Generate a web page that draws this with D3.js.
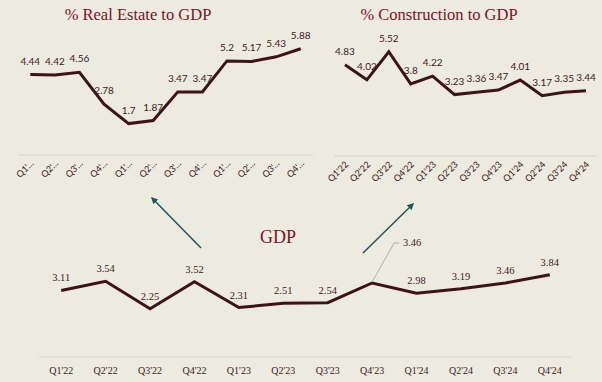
<!DOCTYPE html>
<html><head><meta charset="utf-8">
<script src="https://cdn.jsdelivr.net/npm/d3@7"></script>
<style>
html,body{margin:0;padding:0;background:#EDEAE0;}
svg{display:block;}
</style></head>
<body><svg id="c" width="602" height="382"></svg>
<script>
const quarters = ["Q1'22","Q2'22","Q3'22","Q4'22","Q1'23","Q2'23","Q3'23","Q4'23","Q1'24","Q2'24","Q3'24","Q4'24"];
const realEstateTicks = ["Q1'…","Q2'…","Q3'…","Q4'…","Q1'…","Q2'…","Q3'…","Q4'…","Q1'…","Q2'…","Q3'…","Q4'…"];
const realEstate = [4.44,4.42,4.56,2.78,1.7,1.87,3.47,3.47,5.2,5.17,5.43,5.88];
const construction = [4.83,4.02,5.52,3.8,4.22,3.23,3.36,3.47,4.01,3.17,3.35,3.44];
const gdp = [3.11,3.54,2.25,3.52,2.31,2.51,2.54,3.46,2.98,3.19,3.46,3.84];

const svg = d3.select("#c");
svg.append("rect").attr("width",602).attr("height",382).attr("fill","#EDEAE0");
const lineCol = "#3D1416", titleCol = "#7A1426", textCol = "#3D1A1A", axisCol = "#D6D3CB", arrowCol = "#1E5562";
const sans = "Lato, 'Open Sans', sans-serif";
const serif = "'Liberation Serif', 'DejaVu Serif', serif";

function smallChart(vals, ticks, x0, x1, y0, yTop, title, titleX, labelOff) {
  const x = d3.scaleBand().domain(d3.range(vals.length)).range([x0, x1]);
  const y = d3.scaleLinear().domain([0, 7]).range([y0, yTop]);
  const g = svg.append("g");
  g.append("line").attr("x1",x0).attr("x2",x1).attr("y1",y0+1).attr("y2",y0+1)
    .attr("stroke",axisCol).attr("stroke-width",1);
  g.append("text").attr("x",titleX).attr("y",20).attr("text-anchor","middle")
    .attr("font-family",serif).attr("font-size",16.5).attr("fill",titleCol).text(title);
  const cx = i => x(i) + x.bandwidth()/2;
  g.append("path").datum(vals)
    .attr("d", d3.line().x((d,i)=>cx(i)).y(d=>y(d)))
    .attr("fill","none").attr("stroke",lineCol).attr("stroke-width",3).attr("stroke-linejoin","miter");
  g.selectAll(".lbl").data(vals).join("text")
    .attr("x",(d,i)=>cx(i)).attr("y",d=>y(d)-labelOff).attr("text-anchor","middle")
    .attr("font-family",sans).attr("font-size",10).attr("fill",textCol).text(d=>d);
  g.selectAll(".tk").data(ticks).join("text")
    .attr("transform",(d,i)=>`translate(${cx(i)+4},${y0+10}) rotate(-45)`)
    .attr("text-anchor","end").attr("font-family",sans).attr("font-size",9).attr("fill",textCol).text(d=>d);
}

smallChart(realEstate, realEstateTicks, 18, 313, 154, 154-7*17.9, "% Real Estate to GDP", 138, 10);
smallChart(construction, quarters, 334, 597, 155, 155-7*18.7, "% Construction to GDP", 439, 10);

// GDP chart
const xg = d3.scaleBand().domain(d3.range(gdp.length)).range([39, 572]);
const yg = d3.scaleLinear().domain([0, 5]).range([357, 357-5*21.4]);
const cg = i => xg(i) + xg.bandwidth()/2;
const gg = svg.append("g");
gg.append("line").attr("x1",39).attr("x2",572).attr("y1",357).attr("y2",357).attr("stroke",axisCol);
gg.append("path").datum(gdp)
  .attr("d", d3.line().x((d,i)=>cg(i)).y(d=>yg(d)))
  .attr("fill","none").attr("stroke",lineCol).attr("stroke-width",3);
gg.selectAll(".gl").data(gdp).join("text")
  .attr("x",(d,i)=> i===7 ? cg(i)+40 : cg(i))
  .attr("y",(d,i)=> i===7 ? yg(d)-37 : yg(d)-9)
  .attr("text-anchor","middle").attr("font-family",serif).attr("font-size",10.5).attr("fill",textCol).text(d=>d);
// leader line for Q4'23
const lx = cg(7), ly = yg(gdp[7]);
gg.append("path").attr("d",`M${lx},${ly-1} L${lx+22},${ly-40} L${lx+27},${ly-40}`)
  .attr("fill","none").attr("stroke","#AFAFAF").attr("stroke-width",1);
gg.selectAll(".gt").data(quarters).join("text")
  .attr("x",(d,i)=>cg(i)).attr("y",374).attr("text-anchor","middle")
  .attr("font-family",serif).attr("font-size",10).attr("fill",textCol).text(d=>d);
gg.append("text").attr("x",278).attr("y",243).attr("text-anchor","middle")
  .attr("font-family",serif).attr("font-size",18).attr("fill",titleCol).text("GDP");

// arrows
const defs = svg.append("defs");
defs.append("marker").attr("id","ah").attr("viewBox","0 0 10 10").attr("refX",8).attr("refY",5)
  .attr("markerWidth",4.5).attr("markerHeight",4.5).attr("orient","auto")
  .append("path").attr("d","M0,0 L10,5 L0,10 z").attr("fill",arrowCol);
svg.append("line").attr("x1",201).attr("y1",248).attr("x2",152).attr("y2",198)
  .attr("stroke",arrowCol).attr("stroke-width",1.5).attr("marker-end","url(#ah)");
svg.append("line").attr("x1",363).attr("y1",253).attr("x2",413).attr("y2",204)
  .attr("stroke",arrowCol).attr("stroke-width",1.5).attr("marker-end","url(#ah)");
</script></body></html>
